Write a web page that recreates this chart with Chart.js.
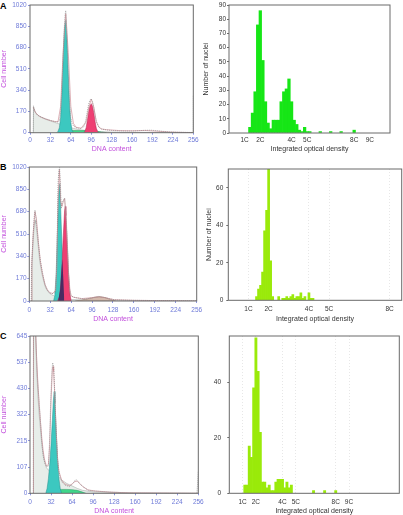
<!DOCTYPE html>
<html><head><meta charset="utf-8">
<script src="https://cdn.jsdelivr.net/npm/chart.js@4.4.1/dist/chart.umd.min.js"></script>
<style>
html,body{margin:0;padding:0;background:#fff;}
#wrap{position:relative;width:403px;height:515px;overflow:hidden;background:#fff;}
canvas{position:absolute;}
.lt{position:absolute;font:bold 9px "Liberation Sans",Arial,sans-serif;line-height:9px;color:#000;}
</style></head><body>
<div id="wrap">
<div class="lt" style="left:0px;top:1.5px">A</div>
<div class="lt" style="left:0px;top:162.5px">B</div>
<div class="lt" style="left:0px;top:332px">C</div>
</div>
<script>
// ---------- Panel A, flow cytometry (DNA content vs cell number) ----------
const aOutlineX = [5,5.5,6,8,10,12,16,20,24,28,32,36,40,44,46,48,50,52,54,55,56,57,58,60,62,64,66,68,72,76,80,84,86,88,90,92,94,96,98,100,102,104,108,112,116,120,128,140,150,160,170,180,190,200,210,220,230,240,250,255,256,256];
const aOutlineY = [0,215,200,172,152,140,130,120,112,105,98,92,88,85,96,160,360,620,860,940,975,910,760,460,240,120,75,55,40,35,33,45,70,115,175,230,262,270,250,200,140,90,45,30,25,22,18,15,14,14,16,19,20,15,10,6,4,3,2,2,0,300];
const aFitX = [5,8,12,16,24,32,40,44,48,52,56,60,64,68,72,80,88,92,96,100,104,108,112,120,140,160,180,200,220,240,256];
const aFitY = [205,165,142,128,110,97,88,90,210,650,950,640,210,75,44,36,85,200,268,205,88,44,30,24,17,15,18,12,5,2,1];
const aDebrisX = [5,5.5,8,12,16,24,32,40,48,56,64,72,80,96,112,128,160,192,224,256];
const aDebrisY = [0,205,165,140,126,108,94,80,66,52,40,30,22,13,8,5,3,2,1,0];
const aG1X = [42,44,46,48,50,52,54,56,58,60,62,64,66,68];
const aG1Y = [0,12,40,120,320,590,830,900,740,470,220,80,20,0];
const aG2X = [84,86,88,90,92,94,96,98,100,102,104,106,108];
const aG2Y = [0,10,40,100,170,215,232,212,160,90,35,10,0];
const aSX = [44,50,56,64,72,80,88,96,104,112,120];
const aSY = [0,10,16,18,18,18,18,16,12,6,0];

// ---------- Panel B, flow cytometry ----------
const bOutlineX = [3,3.6,5,6.2,7.5,8.7,10,12,13.8,16,19,22,24.4,27,29.5,32,34.6,37,39.7,41,42.5,43.8,45,46.3,47.5,48.8,50,50.9,52.5,54,55.5,57.6,59,60.1,61.5,62.7,65,70.3,78,85.6,95,106,116,124,131.5,150,180,210,240,255,256];
const bOutlineY = [0,273,420,526,640,691,640,540,450,340,248,170,121,90,71,60,56,58,65,120,400,880,980,1015,900,704,740,754,770,784,700,526,340,197,100,46,35,26,20,15,22,35,26,15,9,6,4,3,2,1,0];
const bFitX = [3,4,6,8.7,11,14,17,20,24,28,32,36,40,42,44,46,48,50,52,54,56,58,60,62,64,68,80,95,106,116,130,160,200,256];
const bFitY = [0,300,520,680,620,440,300,210,125,80,62,58,80,250,780,1000,760,720,760,780,640,430,220,90,40,28,18,25,33,25,10,5,3,0];
const bDebrisX = [3,4,6,8,9,10,12,14,16,19,22,25,30,35,40,48,56,64,80,96,128,160,256];
const bDebrisY = [0,250,470,600,615,590,500,400,300,215,150,100,62,45,35,25,18,12,8,5,3,1,0];
const bG1X = [37,39,41,43,45,46.5,48,50,52,54];
const bG1Y = [0,40,200,520,820,893,700,420,160,0];
const bG2X = [43,46,48,50,52,54,55,56,58,60,62,64];
const bG2Y = [0,30,120,280,500,690,720,650,420,200,60,0];
const bOverlapX = [44,47,49,50.5,52,53.5];
const bOverlapY = [0,80,220,320,170,0];
const bSX = [70,80,90,100,108,116,124,132];
const bSY = [0,8,18,28,32,26,12,0];

// ---------- Panel C, flow cytometry ----------
const cOutlineX = [5,5.3,7,9.1,10.1,11,12.6,14,15.1,16.5,17.7,19,20.2,22.7,25.2,27.8,29,30.3,31.5,32.8,34.3,35.3,36.3,37.9,39,40.4,41.5,42.9,45.5,49,53,57,60.6,63,66.7,68,70.7,73,75.8,80.8,88.4,96,106,118,131,145,156,180,220,254,256];
const cOutlineY = [0,760,760,645,546,480,424,370,328,270,219,180,150,123,109,110,160,259,380,465,535,530,505,396,300,219,150,109,68,45,34,30,27,35,45,52,55,48,38,27,13,10,8,6,4,2,1,1,0,0,90];
const cFitX = [5,5.3,8,10,12,14,16,18,20,22,25,28,30,32,34,35,36,38,40,42,44,48,52,56,60,64,68,72,76,80,88,100,120,150,200,256];
const cFitY = [0,760,700,560,450,360,290,225,175,140,112,118,200,380,510,520,500,380,240,140,90,55,40,34,32,38,48,50,40,28,14,9,5,2,1,0];
const cDebrisX = [5,5.3,8,10,12,14,16,18,20,22,25,28,32,36,40,48,56,64,72,80,96,128,160,256];
const cDebrisY = [0,760,680,520,400,320,260,200,160,130,105,95,90,85,75,55,40,30,20,12,6,3,1,0];
const cG1X = [24,26,28,30,32,34,35.5,36.8,38,40,42,44,46,48];
const cG1Y = [0,20,60,120,200,300,380,417,370,250,140,60,20,0];
const cSX = [28,32,40,48,56,64,72,80,85];
const cSY = [0,8,14,16,16,15,12,5,0];

// ---------- Image cytometry histograms (integrated optical density, in C units) ----------
const aHistX = [1.333,1.5,1.667,1.833,2,2.167,2.333,2.5,2.667,2.833,3,3.167,3.333,3.5,3.667,3.833,4,4.167,4.333,4.5,4.667,4.833,5,5.167,5.833,6.5,7.167,8];
const aHistY = [4,14,29,76,86,51,22,7,3,9,9,9,22,29,31,38,22,9,6,2,1,4,1,1,1,1,1,2];
const bHistX = [1.4,1.5,1.6,1.7,1.8,1.9,2.0,2.1,2.2,2.5,2.7,2.8,2.9,3.0,3.1,3.2,3.3,3.4,3.5,3.6,3.7,3.8,4.0,4.1,4.2];
const bHistY = [2,6,8,15,37,48,70,21,2,2,1,1,2,1,2,3,1,2,2,4,1,2,4,1,1];
const cHistX = [1.167,1.333,1.5,1.667,1.833,2,2.167,2.333,2.5,2.667,2.833,3,3.167,3.333,3.5,3.667,3.833,4,4.167,4.333,4.5,4.667,6.333,7.167,8];
const cHistY = [3,3,17,13,38,56,44,22,4,4,2,3,1,1,4,5,5,5,2,4,2,3,1,1,1];

const aCTicks = [1,2,4,5,8,9];
const bCTicks = [1,2,4,5,8];
const cCTicks = [1,2,4,5,8,9];

// ---------- styling ----------
const FONT = '"Liberation Sans", Arial, Helvetica, sans-serif';
const BLUE = '#6e7ad8', MAG = '#c24fdc', DARK = '#333';
const COL = {outline:'#8a8a8a', fit:'#cf8f98', debris:'rgba(230,236,232,0.95)', debrisLine:'#a9b0ac',
  g1:'#3cc8c0', g2:'#ee3f72', s:'#3fd68a', overlap:'rgba(45,40,95,0.85)', sB:'rgba(185,140,120,0.6)'};

const frame = { id:'frame', afterDraw(chart){ const {ctx, chartArea:a} = chart; ctx.save(); ctx.strokeStyle='#6a6a6a'; ctx.lineWidth=1;
  ctx.strokeRect(a.left, a.top, a.right-a.left, a.bottom-a.top); ctx.restore(); } };

function mk(box){ const c=document.createElement('canvas'); c.width=box.w; c.height=box.h;
  c.style.left=box.l+'px'; c.style.top=box.t+'px'; c.style.width=box.w+'px'; c.style.height=box.h+'px';
  document.getElementById('wrap').appendChild(c); return c; }
function pads(box, area, wy, hx){ return {left: area.l-box.l-wy, top: area.t-box.t, right: box.l+box.w-area.r, bottom: box.t+box.h-area.b-hx}; }
function pts(xs, ys){ return xs.map((x,i)=>({x:x, y:ys[i]})); }
function ds(xs, ys, o){ return Object.assign({data: pts(xs,ys), pointRadius:0, tension:0, borderWidth:0.8, fill:false}, o); }

function leftPanel(box, area, g, datasets, yMax, yStep){
  new Chart(mk(box), {
    type:'line', data:{datasets:datasets}, plugins:[frame],
    options:{ responsive:false, animation:false, events:[], devicePixelRatio:1,
      layout:{padding:pads(box, area, g.wy, g.hx)},
      plugins:{legend:{display:false}, tooltip:{enabled:false}},
      scales:{
        x:{type:'linear', min:0, max:256, afterFit:s=>{s.height=g.hx; s.paddingLeft=0; s.paddingRight=0;},
          border:{display:false}, grid:{drawOnChartArea:false, drawTicks:true, tickLength:2, tickColor:BLUE, tickWidth:0.8},
          ticks:{stepSize:32, autoSkip:false, maxRotation:0, padding:g.xpad, color:BLUE, font:{family:FONT,size:6.5}},
          title:{display:true, text:'DNA content', color:MAG, font:{family:FONT,size:7}, padding:0}},
        y:{type:'linear', min:0, max:yMax, afterFit:s=>{s.width=g.wy; s.paddingTop=0; s.paddingBottom=0;},
          border:{display:false}, grid:{drawOnChartArea:false, drawTicks:true, tickLength:2, tickColor:BLUE, tickWidth:0.8},
          ticks:{stepSize:yStep, autoSkip:false, padding:g.ypad, color:BLUE, font:{family:FONT,size:6.5}, callback:v=>Math.floor(v+1e-6)},
          title:{display:true, text:'Cell number', color:MAG, font:{family:FONT,size:7}, padding:0}}
      }}
  });
}

function rightPanel(box, area, g, xs, ys, color, cTicks, xMax, yMax, yStep, showTitle, showGrid){
  new Chart(mk(box), {
    type:'bar', plugins:[frame],
    data:{datasets:[{data:pts(xs,ys), backgroundColor:color, borderWidth:0, barPercentage:1, categoryPercentage:1}]},
    options:{ responsive:false, animation:false, events:[], devicePixelRatio:1,
      layout:{padding:pads(box, area, g.wy, g.hx)},
      plugins:{legend:{display:false}, tooltip:{enabled:false}},
      scales:{
        x:{type:'linear', min:0, max:xMax, offset:false,
          afterBuildTicks:s=>{ s.ticks = cTicks.map(v=>({value:v})); },
          afterFit:s=>{s.height=g.hx; s.paddingLeft=0; s.paddingRight=0;},
          border:{display:false, dash:[1,2]},
          grid:{display:showGrid, offset:false, drawOnChartArea:true, drawTicks:false, color:'#dcdcdc', lineWidth:0.7},
          ticks:{autoSkip:false, maxRotation:0, padding:g.xpad, color:DARK, font:{family:FONT,size:6.5}, callback:v=>v+'C'},
          title:{display:true, text:'Integrated optical density', color:DARK, font:{family:FONT,size:7}, padding:0}},
        y:{type:'linear', min:0, max:yMax, afterFit:s=>{s.width=g.wy; s.paddingTop=0; s.paddingBottom=0;},
          border:{display:false}, grid:{drawOnChartArea:false, drawTicks:true, tickLength:2, tickColor:'#444', tickWidth:0.8},
          ticks:{stepSize:yStep, includeBounds:false, autoSkip:false, padding:g.ypad, color:DARK, font:{family:FONT,size:6.5}},
          title:{display:showTitle, text:'Number of nuclei', color:DARK, font:{family:FONT,size:7}, padding:0}}
      }}
  });
}

// Panel A left
leftPanel({l:0,t:0,w:212,h:160}, {l:30,t:5,r:193.3,b:132.7}, {wy:30,hx:20.8,xpad:1.4,ypad:1.3}, [
  ds(aOutlineX,aOutlineY,{borderColor:COL.outline, borderDash:[1,1], borderWidth:0.7, order:0}),
  ds(aFitX,aFitY,{borderColor:COL.fit, borderWidth:0.7, order:1}),
  ds(aG2X,aG2Y,{borderColor:'#b02a55', borderWidth:0.5, backgroundColor:COL.g2, fill:'origin', order:3}),
  ds(aG1X,aG1Y,{borderColor:'#2a8f8a', borderWidth:0.5, backgroundColor:COL.g1, fill:'origin', order:4}),
  ds(aSX,aSY,{borderColor:'#2a9a60', borderWidth:0.5, backgroundColor:COL.s, fill:'origin', order:5}),
  ds(aDebrisX,aDebrisY,{borderColor:COL.debrisLine, borderWidth:0.6, backgroundColor:COL.debris, fill:'origin', order:6})
], 1020, 170);

// Panel B left
leftPanel({l:0,t:160,w:212,h:170}, {l:29.3,t:167,r:196.7,b:301}, {wy:29.3,hx:22.2,xpad:3,ypad:0.6}, [
  ds(bOutlineX,bOutlineY,{borderColor:COL.outline, borderDash:[1,1], borderWidth:0.7, order:0}),
  ds(bFitX,bFitY,{borderColor:COL.fit, borderWidth:0.7, order:1}),
  ds(bOverlapX,bOverlapY,{borderColor:'rgba(0,0,0,0)', backgroundColor:COL.overlap, fill:'origin', order:2}),
  ds(bG2X,bG2Y,{borderColor:'#b02a55', borderWidth:0.5, backgroundColor:COL.g2, fill:'origin', order:3}),
  ds(bG1X,bG1Y,{borderColor:'#2a8f8a', borderWidth:0.5, backgroundColor:COL.g1, fill:'origin', order:4}),
  ds(bSX,bSY,{borderColor:'#8a6a5a', borderWidth:0.5, backgroundColor:COL.sB, fill:'origin', order:5}),
  ds(bDebrisX,bDebrisY,{borderColor:COL.debrisLine, borderWidth:0.6, backgroundColor:COL.debris, fill:'origin', order:6})
], 1020, 170);

// Panel C left
leftPanel({l:0,t:330,w:212,h:185}, {l:30,t:336,r:198.3,b:493.3}, {wy:30,hx:21.7,xpad:3.1,ypad:0.7}, [
  ds(cOutlineX,cOutlineY,{borderColor:COL.outline, borderDash:[1,1], borderWidth:0.7, order:0}),
  ds(cFitX,cFitY,{borderColor:COL.fit, borderWidth:0.7, order:1}),
  ds(cG1X,cG1Y,{borderColor:'#2a8f8a', borderWidth:0.5, backgroundColor:COL.g1, fill:'origin', order:4}),
  ds(cSX,cSY,{borderColor:'#2a9a60', borderWidth:0.5, backgroundColor:COL.s, fill:'origin', order:5}),
  ds(cDebrisX,cDebrisY,{borderColor:COL.debrisLine, borderWidth:0.6, backgroundColor:COL.debris, fill:'origin', order:6})
], 645, 107.5);

// Right panels
rightPanel({l:200,t:0,w:203,h:160}, {l:229,t:5,r:390,b:133}, {wy:27.2,hx:20.5,xpad:3.1,ypad:1},
  aHistX, aHistY, '#16e616', aCTicks, 10.29, 90, 10, true, false);
rightPanel({l:200,t:160,w:203,h:170}, {l:228.3,t:169,r:401.7,b:300.3}, {wy:23.2,hx:23.2,xpad:5.1,ypad:3},
  bHistX, bHistY, '#9aea0a', bCTicks, 8.6, 70, 20, true, true);
rightPanel({l:200,t:330,w:203,h:185}, {l:229.3,t:336,r:399.3,b:493.3}, {wy:29.3,hx:21.7,xpad:5.1,ypad:6.3},
  cHistX, cHistY, '#9aea0a', cCTicks, 12.78, 56.7, 20, false, true);
</script>
</body></html>
